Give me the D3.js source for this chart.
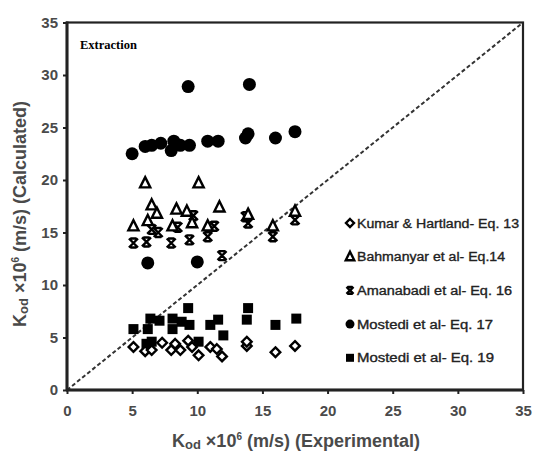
<!DOCTYPE html>
<html><head><meta charset="utf-8">
<script src="https://cdn.jsdelivr.net/npm/d3@7"></script>
<style>body{margin:0;background:#fff}svg{display:block}</style>
</head><body><svg id="c" width="538" height="460"></svg>
<script>
const xTicks = [0,5,10,15,20,25,30,35];
const yTicks = [0,5,10,15,20,25,30,35];
const seriesNames = ["Kumar & Hartland- Eq. 13","Bahmanyar et al- Eq.14","Amanabadi et al- Eq. 16","Mostedi et al- Eq. 17","Mostedi et al- Eq. 19"];
// Eq. 13 (open diamonds)
const eq13x = [5.1,6.0,6.5,7.3,8.0,8.3,8.7,9.3,9.6,10.1,11.0,11.5,11.9,13.8,13.8,16.0,17.5];
const eq13y = [4.1,3.7,3.8,4.5,3.8,4.4,3.8,4.7,4.1,3.3,4.1,3.9,3.2,4.2,4.6,3.6,4.2];
// Eq. 14 (open triangles)
const eq14x = [5.1,6.0,6.2,6.5,6.9,8.1,8.4,9.2,9.6,10.1,10.8,11.7,13.9,15.8,17.5];
const eq14y = [15.6,19.7,16.1,17.6,16.8,15.6,17.2,17.0,15.9,19.7,15.6,17.4,16.7,15.6,17.0];
// Eq. 16 (crosses)
const eq16x = [5.1,6.1,6.5,7.0,8.0,8.5,9.4,9.7,10.8,11.3,11.9,13.9,13.7,15.8,17.5];
const eq16y = [14.0,14.1,15.3,15.0,14.0,15.5,14.3,16.6,14.6,15.6,12.8,15.9,16.5,14.6,16.2];
// Eq. 17 (filled circles)
const eq17x = [5.0,6.0,6.5,7.2,8.0,8.2,8.7,9.4,9.3,10.8,11.6,13.7,13.9,14.0,16.0,17.5,6.2,10.0];
const eq17y = [22.5,23.2,23.3,23.5,22.8,23.7,23.3,23.3,28.9,23.7,23.7,24.0,24.4,29.1,24.0,24.6,12.1,12.2];
// Eq. 19 (filled squares)
const eq19x = [5.1,6.2,6.4,6.5,6.1,7.1,8.1,8.1,8.8,9.3,9.4,10.1,11.0,11.6,12.0,13.8,13.9,16.0,17.6];
const eq19y = [5.8,5.8,6.8,4.6,4.4,6.6,6.8,5.8,6.5,7.8,6.2,4.6,6.2,6.7,5.2,6.7,7.8,6.2,6.8];

const svg = d3.select("#c");
const L=67,R=523,T=22.5,B=390;
const x = d3.scaleLinear().domain([0,35]).range([L,R]);
const y = d3.scaleLinear().domain([0,35]).range([B,T]);

// diagonal
svg.append("line").attr("x1",x(0)).attr("y1",y(0)).attr("x2",x(35)).attr("y2",y(35))
  .attr("stroke","#333").attr("stroke-width",2).attr("stroke-dasharray","4,2.5");

// axes
const xa = svg.append("g").attr("transform",`translate(0,${B})`)
  .call(d3.axisBottom(x).tickValues(xTicks).tickSize(4).tickPadding(11));
const ya = svg.append("g").attr("transform",`translate(${L},0)`)
  .call(d3.axisLeft(y).tickValues(yTicks).tickSize(4).tickPadding(5));
[xa,ya].forEach(a=>{
  a.select(".domain").remove();
  a.selectAll("line").attr("stroke","#222").attr("stroke-width",2);
  a.selectAll("text").attr("font-family","Liberation Sans, Arial, sans-serif")
   .attr("font-size",15).attr("font-weight","bold").attr("fill","#4a4a4a");
});
// frame
svg.append("rect").attr("x",L).attr("y",T).attr("width",R-L).attr("height",B-T)
  .attr("fill","none").attr("stroke","#222").attr("stroke-width",2.2);
svg.append("line").attr("x1",L).attr("y1",T-1).attr("x2",L).attr("y2",B+1).attr("stroke","#222").attr("stroke-width",3);
svg.append("line").attr("x1",L-1).attr("y1",B).attr("x2",R+1).attr("y2",B).attr("stroke","#222").attr("stroke-width",3);

// marker drawers
function diamond(g,cx,cy,s){g.append("path").attr("d",`M${cx},${cy-s}L${cx+s},${cy}L${cx},${cy+s}L${cx-s},${cy}Z`)
  .attr("fill","#fff").attr("stroke","#000").attr("stroke-width",2.4);}
function tri(g,cx,cy,s){g.append("path").attr("d",`M${cx},${cy-s}L${cx+s*0.85},${cy+s*0.7}L${cx-s*0.85},${cy+s*0.7}Z`)
  .attr("fill","#fff").attr("stroke","#000").attr("stroke-width",2.4);}
function cross(g,cx,cy,s){g.append("path").attr("d",`M${cx-s},${cy-s}L${cx+s},${cy+s}M${cx+s},${cy-s}L${cx-s},${cy+s}M${cx-s*0.7},${cy-s}L${cx+s*0.7},${cy-s}M${cx-s*0.7},${cy+s}L${cx+s*0.7},${cy+s}`)
  .attr("fill","none").attr("stroke","#000").attr("stroke-width",2.4);}
function circ(g,cx,cy,s){g.append("circle").attr("cx",cx).attr("cy",cy).attr("r",s).attr("fill","#000");}
function sq(g,cx,cy,s){g.append("rect").attr("x",cx-s).attr("y",cy-s).attr("width",2*s).attr("height",2*s).attr("fill","#000");}

const pts = svg.append("g");
const series = [
  {xs:eq19x,ys:eq19y,f:sq,s:5,ls:4},
  {xs:eq16x,ys:eq16y,f:cross,s:4.5,ls:3.5},
  {xs:eq14x,ys:eq14y,f:tri,s:6,ls:5},
  {xs:eq13x,ys:eq13y,f:diamond,s:4.8,ls:4},
  {xs:eq17x,ys:eq17y,f:circ,s:6.5,ls:4.5}
];
series.forEach(se=>se.xs.forEach((v,i)=>se.f(pts,x(v),y(se.ys[i]),se.s)));

// legend
const legOrder=[3,2,1,4,0];
const legLen=[162,148,155,136,137];
const lg = svg.append("g");
seriesNames.forEach((n,i)=>{
  const se = series[legOrder[i]];
  const yy = 223 + i*33.7;
  se.f(lg,350,yy,se.ls);
  lg.append("text").attr("x",357).attr("y",yy+4.5).text(n)
    .attr("font-family","Liberation Sans, Arial, sans-serif").attr("font-size",12.5)
    .attr("fill","#222").attr("stroke","#222").attr("stroke-width",0.35)
    .attr("textLength",legLen[i]).attr("lengthAdjust","spacingAndGlyphs");
});

// Extraction
svg.append("text").attr("x",80).attr("y",49).text("Extraction")
  .attr("font-family","Liberation Serif, Times New Roman, serif").attr("font-weight","bold").attr("font-size",12.5).attr("fill","#000");

// axis titles
function title(t,txt){
  t.attr("text-anchor","middle").attr("font-family","Liberation Sans, Arial, sans-serif")
   .attr("font-weight","bold").attr("font-size",18).attr("fill","#4a4a4a");
  t.append("tspan").text("K");
  t.append("tspan").text("od").attr("font-size",13).attr("dy",2);
  t.append("tspan").text(" ×10").attr("dy",-2);
  t.append("tspan").text("6").attr("font-size",10).attr("dy",-7);
  t.append("tspan").text(txt).attr("dy",7);
}
title(svg.append("text").attr("x",296).attr("y",447)," (m/s) (Experimental)");
title(svg.append("text").attr("transform","translate(26,214) rotate(-90)")," (m/s) (Calculated)");
</script></body></html>
